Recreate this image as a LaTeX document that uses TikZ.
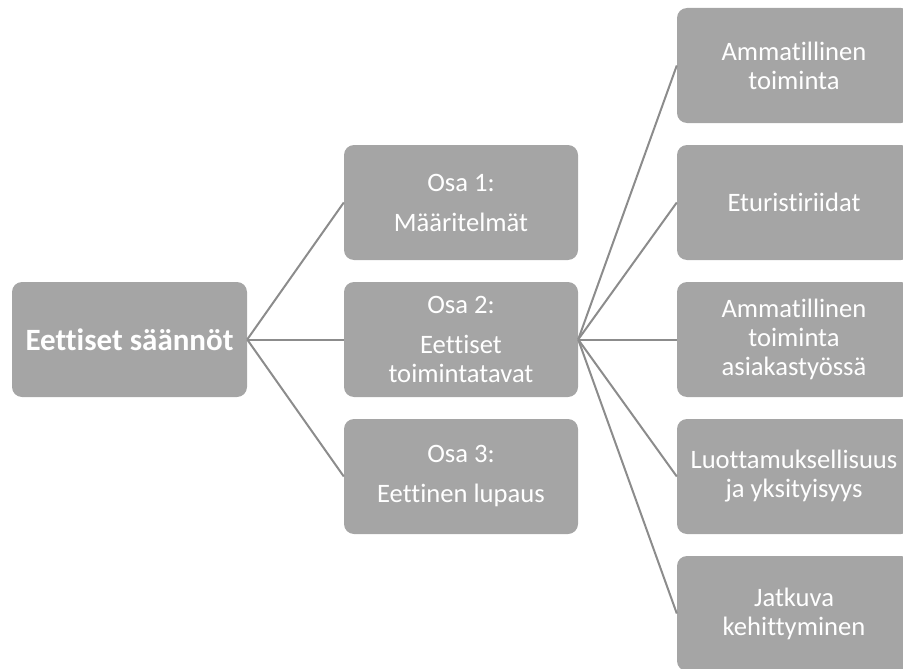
\documentclass[tikz,border=0pt]{standalone}
\usepackage{fontspec}
\setmainfont{Carlito}[Ligatures={NoCommon}]
\definecolor{boxgray}{RGB}{165,165,165}
\definecolor{linegray}{RGB}{140,140,140}

\begin{document}
\begin{tikzpicture}[x=1pt, y=-1pt,
		box/.style={fill=boxgray, rounded corners=10pt, minimum width=234pt, minimum height=115pt, inner sep=0pt, text=white, align=center, font=\fontsize{26.6}{29}\selectfont},
		link/.style={draw=linegray, line width=2pt}]
		\path[use as bounding box, clip] (0,0) rectangle (903,669);

		% root and the three parts
		\node[box, minimum width=235pt, font=\bfseries\fontsize{31}{36}\selectfont] (root) at (129.5, 339.5) {Eettiset säännöt};
		\node[box] (osa1) at (461, 202.5) {Osa 1:\\[11pt]Määritelmät};
		\node[box] (osa2) at (461, 339.5) {Osa 2:\\[11pt]Eettiset\\toimintatavat};
		\node[box] (osa3) at (461, 476.5) {Osa 3:\\[11pt]Eettinen lupaus};

		% ways of working
		\node[box] (amm) at (794, 65.5) {Ammatillinen\\toiminta};
		\node[box] (etu) at (794, 202.5) {Eturistiriidat};
		\node[box] (asi) at (794, 339.5) {Ammatillinen\\toiminta\\asiakastyössä};
		\node[box] (luo) at (794, 476.5) {Luottamuksellisuus\\ja yksityisyys};
		\node[box] (jat) at (794, 613.5) {Jatkuva\\kehittyminen};

		\draw[link] (root.east) -- (osa1.west);
		\draw[link] (root.east) -- (osa2.west);
		\draw[link] (root.east) -- (osa3.west);
		\draw[link] (osa2.east) -- (amm.west);
		\draw[link] (osa2.east) -- (etu.west);
		\draw[link] (osa2.east) -- (asi.west);
		\draw[link] (osa2.east) -- (luo.west);
		\draw[link] (osa2.east) -- (jat.west);
	\end{tikzpicture}
\end{document}
